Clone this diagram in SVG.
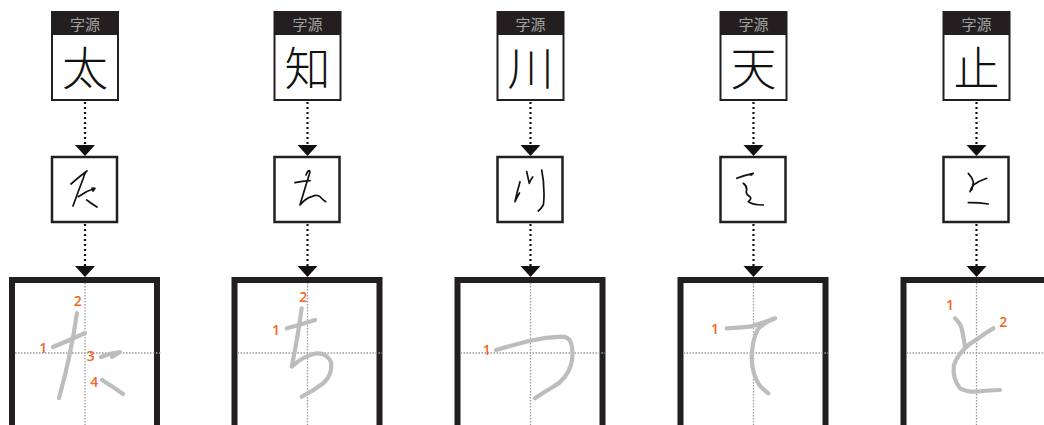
<svg xmlns="http://www.w3.org/2000/svg" width="1044" height="425" viewBox="0 0 1044 425">
<style>
.hdr{fill:#231f20}
.frame{fill:#fff;stroke:#231f20;stroke-width:2}
.mid{fill:#fff;stroke:#231f20;stroke-width:2.5}
.big{fill:#fff;stroke:#231f20;stroke-width:6}
.htxt{font-family:"Noto Sans CJK JP","Noto Sans CJK SC",sans-serif;font-size:15px;fill:#a3a3a3;text-anchor:middle}
.ctxt{font-family:"Noto Sans CJK JP","Noto Sans CJK SC",sans-serif;font-size:46px;font-weight:300;fill:#111;text-anchor:middle}
.guide{stroke:#9a9a9a;stroke-width:1.3;stroke-dasharray:1.5 1.5;fill:none}
.dot{stroke:#111;stroke-width:2.2;stroke-dasharray:2 3;fill:none}
.head{fill:#111}
.brush{fill:none;stroke:#111;stroke-width:1.7;stroke-linecap:round;stroke-linejoin:round}
.gs{fill:none;stroke:#bdbdbd;stroke-width:4.2;stroke-linecap:round;stroke-linejoin:round}
.num{font-family:"Open Sans","Liberation Sans",sans-serif;font-size:14px;font-weight:600;fill:#f26522;text-anchor:middle}
</style>
<defs>
<g id="topbox">
<rect class="frame" x="52" y="12" width="66" height="88"/>
<rect class="hdr" x="52" y="12" width="66" height="23"/>
<text class="htxt" x="85" y="30">字源</text>
</g>
<g id="midbox"><rect class="mid" x="52" y="157" width="65" height="65"/></g>
<g id="bigbox">
<rect class="big" x="12" y="280" width="145" height="160"/>
<line class="guide" x1="85" y1="283" x2="85" y2="425"/>
<line class="guide" x1="15" y1="353" x2="162" y2="353"/>
</g>
<g id="conn">
<line class="dot" x1="85" y1="102" x2="85" y2="146"/>
<polygon class="head" points="75,145 95,145 85,156"/>
<line class="dot" x1="85" y1="224" x2="85" y2="267"/>
<polygon class="head" points="75,266 95,266 85,277"/>
</g>
</defs>

<g id="connectors">
<use href="#conn"/>
<use href="#conn" transform="translate(222.5,0)"/>
<use href="#conn" transform="translate(445.5,0)"/>
<use href="#conn" transform="translate(668.5,0)"/>
<use href="#conn" transform="translate(891.5,0)"/>
</g>

<!-- Column 1 -->
<g id="src-ta"><use href="#topbox"/><text class="ctxt" x="85" y="85">太</text></g>
<g id="cursive-ta"><use href="#midbox"/>
<path class="brush" d="M71,184 Q80,176 87,171 Q85,172 83.3,178.3 Q78,192 73,206"/>
<path class="brush" d="M78.3,196.7 Q86,191 95,188.3 M92,188 L95,188.3 L93,191"/>
<path class="brush" d="M86.7,200 Q92,204 97,207"/>
</g>
<g id="kana-ta"><use href="#bigbox"/>
<path class="gs" d="M53,347 Q68,341 85,333"/>
<path class="gs" d="M77,313 Q71,355 59,398"/>
<path class="gs" d="M101,357 Q110,353 120,352 L112,357"/>
<path class="gs" d="M102,380 Q112,386 123,394"/>
<text class="num" x="77.7" y="306">2</text>
<text class="num" x="43.3" y="352.5">1</text>
<text class="num" x="90.7" y="361.2">3</text>
<text class="num" x="94.3" y="387">4</text>
</g>

<!-- Column 2 -->
<g id="src-chi" transform="translate(222.5,0)"><use href="#topbox"/><text class="ctxt" x="85" y="85">知</text></g>
<g id="cursive-chi"><use href="#midbox" transform="translate(222.5,0)"/>
<path class="brush" d="M295,182.7 Q302,181 310,180.7"/>
<path class="brush" d="M306,175 Q309,168 310,172 Q305,188 300,205 Q306,198 311.7,196.7 Q317,194 320,196.7 Q323,200 325.7,201.7"/>
</g>
<g id="kana-chi"><use href="#bigbox" transform="translate(222.5,0)"/>
<path class="gs" d="M286.7,328.3 Q300,325 315,320"/>
<path class="gs" d="M301.7,308.3 Q298,336 291.7,366.7 Q303,356 316.7,353.3 Q327,353 331,362 Q333,374 323.3,383.3 Q313,391 301.7,396.7"/>
<text class="num" x="303.3" y="302">2</text>
<text class="num" x="276" y="335.2">1</text>
</g>

<!-- Column 3 -->
<g id="src-kawa" transform="translate(445.5,0)"><use href="#topbox"/><text class="ctxt" x="85" y="85">川</text></g>
<g id="cursive-tsu"><use href="#midbox" transform="translate(445.5,0)"/>
<path class="brush" d="M520,181.7 Q517,192 515,201.7 Q517,197 519.5,193"/>
<path class="brush" d="M526.7,171.7 Q528,178 529.3,183.3 Q531,179 532.7,177"/>
<path class="brush" d="M541.7,170 Q544,181 544,193.3 Q544,201 543.3,205 Q541,209 538.3,211"/>
</g>
<g id="kana-tsu"><use href="#bigbox" transform="translate(445.5,0)"/>
<path class="gs" d="M496,350 Q513,345 530,340.7 Q546,337 561.7,336.7 Q569,337 571,343 Q574,352 571,365 Q566,380 553.3,386.7 Q544,392 535,398.3"/>
<text class="num" x="486.7" y="355.2">1</text>
</g>

<!-- Column 4 -->
<g id="src-ten" transform="translate(668.5,0)"><use href="#topbox"/><text class="ctxt" x="85" y="85">天</text></g>
<g id="cursive-te"><use href="#midbox" transform="translate(668.5,0)"/>
<path class="brush" d="M736.7,178.3 Q745,175 753.3,173.3 L751,175"/>
<path class="brush" d="M743.3,183.3 Q747,186 746.7,190 Q745,194 750,196.7 Q752,199 748.3,201.7 Q752,205 763.3,205"/>
</g>
<g id="kana-te"><use href="#bigbox" transform="translate(668.5,0)"/>
<path class="gs" d="M726.7,328.3 Q738,328 750,326.7 Q763,323 775,318.3 Q765,322 758,329 Q752,340 751.7,358 Q752,375 760,386 Q764,390 768.3,393.3"/>
<text class="num" x="715" y="333.5">1</text>
</g>

<!-- Column 5 -->
<g id="src-shi" transform="translate(891.5,0)"><use href="#topbox"/><text class="ctxt" x="85" y="85">止</text></g>
<g id="cursive-to"><use href="#midbox" transform="translate(891.5,0)"/>
<path class="brush" d="M968.3,173.3 Q972,177 973.3,181.7 Q973,186 971.7,190"/>
<path class="brush" d="M986.7,178.3 Q979,181 973.3,185 Q971,188 970,191.7"/>
<path class="brush" d="M968.3,202.7 Q978,202.5 988.3,204"/>
</g>
<g id="kana-to"><use href="#bigbox" transform="translate(891.5,0)"/>
<path class="gs" d="M955,318.3 Q961,324 962,330 Q964,339 965,346.7"/>
<path class="gs" d="M993.3,328.3 Q985,333 978.3,338.3 Q970,343 965,348.3 Q957,356 954,365 Q952,378 960,388.3 Q967,392 976.7,391.7 Q990,390 1000,390"/>
<text class="num" x="950" y="310.2">1</text>
<text class="num" x="1003.3" y="327">2</text>
</g>
</svg>
